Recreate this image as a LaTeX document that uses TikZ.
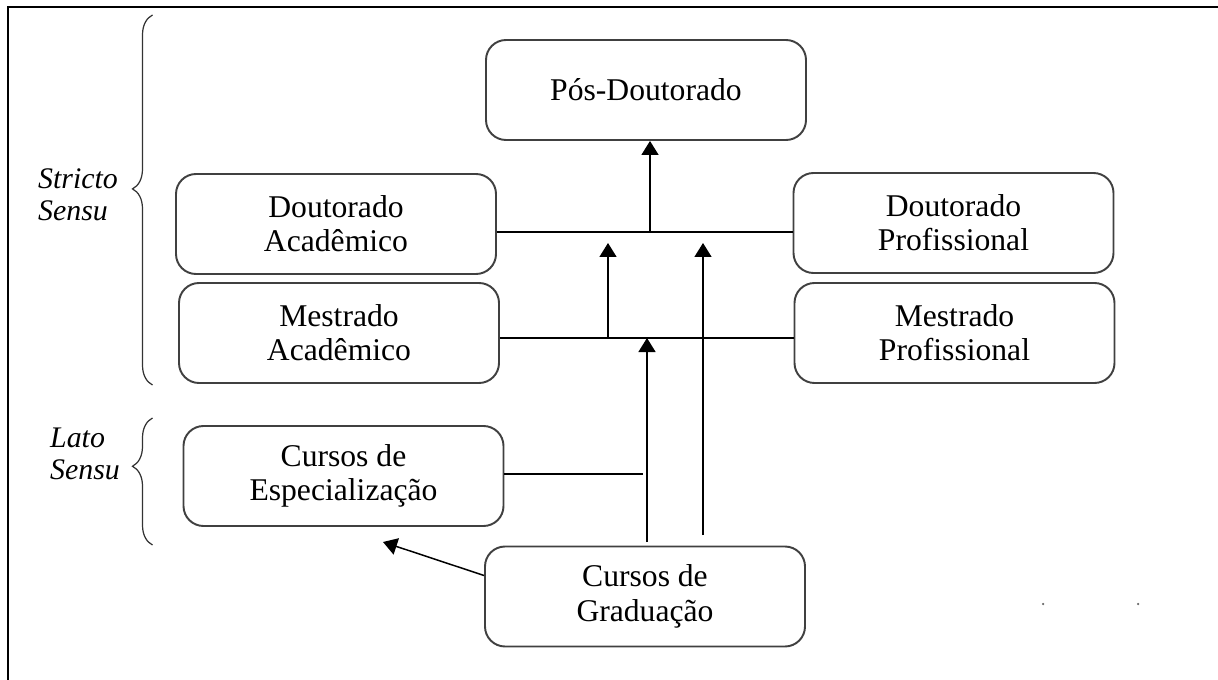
\documentclass[tikz,border=0pt]{standalone}
\usepackage{fontspec}
\setmainfont{Liberation Serif}
\usetikzlibrary{arrows.meta,decorations.pathreplacing}

\begin{document}
\begin{tikzpicture}[
  caixa/.style={draw=black!75, line width=1.1pt, rounded corners=0.4cm,
    minimum width=6.4cm, minimum height=2cm, align=center,
    font=\fontsize{18}{19.5}\selectfont},
  liga/.style={line width=0.85pt},
  seta/.style={line width=0.85pt, -{Triangle[width=3.4mm,length=2.8mm]}},
  chave/.style={decorate, decoration={brace, amplitude=4mm, aspect=#1}, line width=0.7pt, black!80},
  rotulo/.style={align=left, font=\fontsize{17}{18}\selectfont\itshape}
]
\useasboundingbox (0,0) rectangle (24.36,-13.6);
% moldura
\draw[line width=1.7pt] (0.16,-13.6) -- (0.16,-0.14) -- (24.36,-0.14);

\node (posdoc) [caixa] at (12.92,-1.80) {Pós-Doutorado};
\node (docac) [caixa] at (6.72,-4.48) {Doutorado\\Acadêmico};
\node (mesac) [caixa] at (6.78,-6.66) {Mestrado\\Acadêmico};
\node (docpr) [caixa] at (19.07,-4.46) {Doutorado\\Profissional};
\node (mespr) [caixa] at (19.09,-6.66) {Mestrado\\Profissional};
\node (espec) [caixa] at (6.87,-9.52) {Cursos de\\Especialização};
\node (grad) [caixa] at (12.90,-11.93) {Cursos de\\Graduação};

% chaves e rotulos
\draw[chave=0.53] (3.05,-7.7) -- (3.05,-0.3);
\node (stricto) [rotulo] at (1.56,-3.90) {Stricto\\Sensu};
\draw[chave=0.62] (3.05,-10.9) -- (3.05,-8.36);
\node (lato) [rotulo] at (1.70,-9.08) {Lato\\Sensu};

% junções
\coordinate (jdoc) at (13.0,-4.64);
\coordinate (jmes) at (12.16,-6.76);
\coordinate (jgr1) at (12.94,-10.84);
\coordinate (jgr2) at (14.06,-10.70);

\draw[liga] ([yshift=-1.6mm]docac.east) -- ([yshift=-1.6mm]docac.east -| docpr.west);
\draw[liga] ([yshift=-1mm]mesac.east) -- ([yshift=-1mm]mesac.east -| mespr.west);
\draw[liga] ([yshift=0.4mm]espec.east) -- ([yshift=0.4mm]espec.east -| 12.86,0);
\draw[seta] (jdoc) -- (jdoc |- posdoc.south);
\draw[seta] (jmes) -- (12.16,-4.86);
\draw[seta] (jgr1) -- (jgr1 |- jmes);
\draw[seta] (jgr2) -- (14.06,-4.86);
\draw[seta] ([yshift=4.2mm]grad.west) -- (7.66,-10.84);

% pontos soltos
\fill[black!60] (20.86,-12.08) circle (0.025);
\fill[black!60] (22.76,-12.08) circle (0.025);
\end{tikzpicture}
\end{document}
